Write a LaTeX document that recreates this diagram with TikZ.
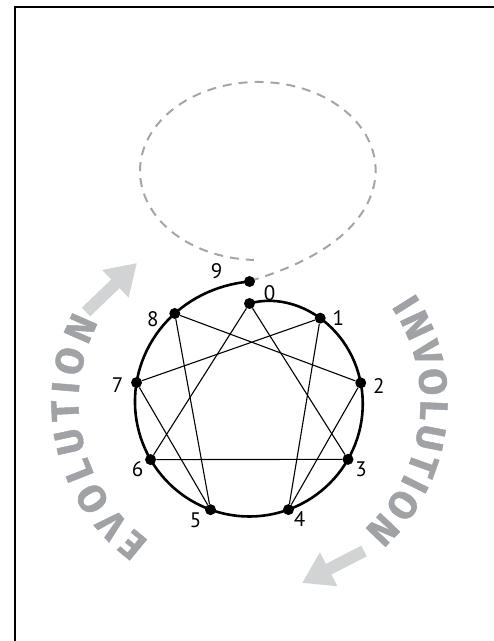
\documentclass[tikz,border=0pt]{standalone}
\usepackage{fontspec}
\setmainfont{PT Sans}
\newfontfamily\wordfamily{Fira Sans}[BoldFeatures={FakeBold=1.2}]
\usetikzlibrary{arrows.meta,decorations.text,calc}
\definecolor{wordgray}{HTML}{A0A2A5}
\definecolor{arrowgray}{HTML}{D1D3D4}
\definecolor{dashgray}{HTML}{A3A5A8}
\newcommand\wordstyle{\wordfamily\bfseries\fontsize{39}{39}\selectfont\color{wordgray}}
\tikzset{
  pointdot/.style={circle,fill=black,inner sep=0pt,minimum size=11pt},
  num/.style={font=\fontsize{21}{21}\selectfont,inner sep=0pt},
  chord/.style={line width=1.1pt},
  spiral/.style={line width=2.6pt},
  dashloop/.style={dashgray,line width=2pt,dash pattern=on 9pt off 7pt},
  bigarrow/.style={arrowgray,line width=12pt,-{Triangle[length=30pt,width=36pt]}}
}
\begin{document}
\begin{tikzpicture}[x=1pt,y=1pt,
  declare function={rs(\t)=114-15*exp(-\t/30)+7*exp(-(360-\t)/35);
                    fd(\t)=exp(-(\t+90)/30);}]
\useasboundingbox (0,0) rectangle (494,641);
\draw[line width=2pt] (15,0) -- (15,634) -- (494,634);
\coordinate (C) at (249.5,238.5);

\draw[dashloop] plot[domain=-90:268,samples=121] ({258+118*cos(\x)-8*fd(\x)},{470+(89+21*fd(\x))*sin(\x)});
\draw[spiral] plot[domain=0:360,samples=121] ({249.5+rs(\x)*cos(90-\x)},{238.5+rs(\x)*sin(90-\x)});

\foreach \k in {0,...,9}{
  \pgfmathsetmacro\rr{rs(40*\k)}
  \node[pointdot] (p\k) at ($(C)+({90-40*\k}:\rr)$) {};
}
\foreach \k/\dx/\dy in {0/20/10,1/18/0,2/18/-3,3/13/-10,4/11/-9,5/-15/-11,6/-13/-10,7/-19/-3,8/-22/-6,9/-33/10}
  \node[num] (n\k) at ([shift={(\dx,\dy)}]p\k) {\k};

\foreach \a/\b in {0/3,3/6,6/0,1/4,4/2,2/8,8/5,5/7,7/1}
  \draw[chord] (p\a) -- (p\b);

\path[decorate,decoration={text along path,text={|\wordstyle|EVOLUTION},text align={fit to path}}]
  ($(C)+(234:171)$) arc[start angle=234,end angle=152,radius=171];
\path[decorate,decoration={text along path,text={|\wordstyle|INVOLUTION},text align={fit to path}}]
  ($(C)+(34:171)$) arc[start angle=34,end angle=-48,radius=171];

\coordinate (e1) at (86,329);
\coordinate (e2) at (137,378);
\coordinate (i1) at (364,90);
\coordinate (i2) at (302,58);
\draw[bigarrow] (e1) -- (e2);
\draw[bigarrow] (i1) -- (i2);
\end{tikzpicture}
\end{document}
